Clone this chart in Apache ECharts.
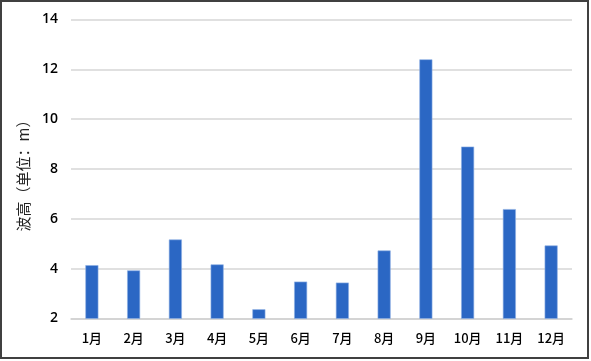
<!DOCTYPE html>
<html>
<head>
<meta charset="utf-8">
<script src="https://cdn.jsdelivr.net/npm/echarts@6/dist/echarts.min.js"></script>
<style>
html,body{margin:0;padding:0;background:#fff;}
#c{width:591px;height:361px;}
</style>
</head>
<body>
<div id="c"></div>
<script>
const categories = ['1月','2月','3月','4月','5月','6月','7月','8月','9月','10月','11月','12月'];
const waveHeight = [4.14, 3.93, 5.17, 4.17, 2.37, 3.48, 3.44, 4.73, 12.4, 8.9, 6.39, 4.93];
const yTicks = {min: 2, max: 14, interval: 2};

const chart = echarts.init(document.getElementById('c'));
chart.setOption({
  animation: false,
  backgroundColor: '#fff',
  graphic: [{
    type: 'rect',
    shape: {x: 1, y: 1, width: 587, height: 357},
    style: {fill: 'none', stroke: '#404040', lineWidth: 2},
    silent: true
  }],
  grid: {left: 71, right: 19, top: 19.5, bottom: 42.5},
  xAxis: {
    type: 'category',
    data: categories,
    axisLine: {show: true, lineStyle: {color: '#d0d0d0', width: 1.5}},
    axisTick: {show: false},
    axisLabel: {color: '#000', fontSize: 13, fontWeight: 500, margin: 13, fontFamily: '"Noto Sans CJK SC", "Noto Sans", sans-serif'}
  },
  yAxis: {
    type: 'value',
    min: yTicks.min, max: yTicks.max, interval: yTicks.interval,
    name: '波高（单位：m）',
    nameLocation: 'middle',
    nameGap: 40,
    nameTextStyle: {color: '#222', fontSize: 15, fontFamily: '"Noto Sans CJK SC", sans-serif', padding: [0, 0, 0, -6]},
    axisLine: {show: false},
    axisTick: {show: false},
    axisLabel: {color: '#000', fontSize: 14, fontWeight: 600, margin: 13, fontFamily: '"Open Sans", sans-serif'},
    splitLine: {lineStyle: {color: '#d6d6d6', width: 1.5}}
  },
  series: [{
    type: 'bar',
    data: waveHeight,
    barWidth: 13,
    itemStyle: {color: '#2B67C4', borderColor: '#8fb0e4', borderWidth: 0.6}
  }]
});
</script>
</body>
</html>
